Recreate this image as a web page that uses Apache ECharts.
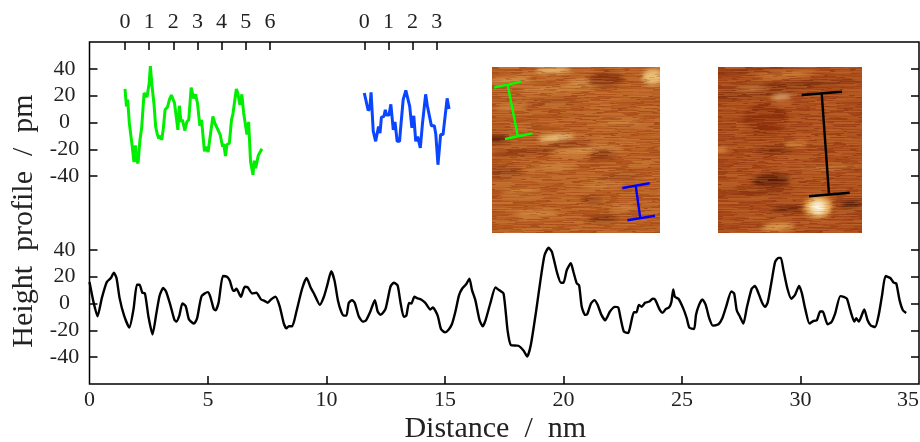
<!DOCTYPE html>
<html>
<head>
<meta charset="utf-8">
<title>Height profile</title>
<script src="https://cdn.jsdelivr.net/npm/echarts@6/dist/echarts.min.js"></script>
<style>
html, body { margin: 0; padding: 0; background: #fff; }
#main { width: 920px; height: 442px; }
</style>
</head>
<body>
<div id="main"></div>
<script>
// lower trace, distance in nm / height in pm
var blackX = [0,0.17,0.34,0.52,0.73,0.9,1.03,1.14,1.27,1.46,1.68,1.86,2,2.11,2.23,2.34,2.49,2.66,2.82,2.96,3.11,3.23,3.41,3.58,3.66,3.79,3.92,4.06,4.2,4.41,4.54,4.73,4.99,5.1,5.24,5.32,5.45,5.63,5.8,5.92,6.06,6.11,6.2,6.39,6.55,6.68,6.86,7.04,7.24,7.38,7.52,7.66,7.85,8.03,8.2,8.31,8.41,8.55,8.73,8.97,9.16,9.33,9.47,9.72,9.89,10.03,10.2,10.34,10.48,10.62,10.73,10.84,10.94,11.08,11.19,11.36,11.53,11.67,11.85,12.04,12.16,12.28,12.49,12.7,12.84,13,13.12,13.26,13.37,13.48,13.58,13.71,13.82,13.99,14.17,14.38,14.49,14.69,14.83,15,15.15,15.29,15.44,15.59,15.72,15.9,16.03,16.14,16.28,16.46,16.59,16.71,16.91,17.13,17.28,17.47,17.64,17.78,18.1,18.31,18.47,18.62,18.85,19.05,19.2,19.37,19.51,19.72,19.89,20,20.14,20.31,20.42,20.56,20.66,20.77,20.91,21,21.16,21.3,21.44,21.6,21.76,21.96,22.17,22.31,22.41,22.55,22.73,22.83,22.97,23.08,23.18,23.3,23.44,23.62,23.76,23.86,24.07,24.18,24.32,24.45,24.55,24.63,24.7,24.85,25.06,25.2,25.31,25.51,25.59,25.72,25.86,26,26.15,26.3,26.54,26.7,26.86,27.08,27.2,27.31,27.45,27.59,27.73,27.94,28.08,28.23,28.37,28.51,28.62,28.79,28.93,29.07,29.17,29.28,29.45,29.61,29.77,29.94,30.06,30.2,30.38,30.55,30.69,30.83,30.94,31.14,31.3,31.46,31.68,31.82,31.96,32.1,32.27,32.35,32.46,32.69,32.83,32.97,33.15,33.3,33.44,33.59,33.79,33.93,34.04,34.18,34.32,34.46];
var blackY = [16,1,-9.5,4,16,19,23,19,4,-9,-18,-4,14,14,8,7.5,-10,-23,-7.5,6,11.5,9,-1,-12,-13.5,-9,0,-2,-12,-15,-11,5.5,8.5,5,-4,-5,1,20.5,20,17,9.5,9.5,11,5,12.5,12,7.5,8,3,2,0.5,3,5,-2.5,-15,-18.5,-17,-17,-6,11,19,12,7.5,-1,5,13.5,24,17,2.5,-6,-9,-9,0.5,2.5,0.5,-9.5,-13.5,-12.5,-6,2.5,-6,-8.5,-4,12.5,15.5,13.5,1,-10,-9,0.5,0,5,4,3,0.5,-4.5,-3,-9,-19,-21.5,-19.5,-15.5,-6,6,11,14.5,18.5,10,2.5,-12.5,-17,-12.5,0,12,10,7.5,-20,-31,-31.5,-35,-39.5,-31,-5,20,36,41.5,38.5,23.5,15.5,15.5,25,30,23.5,15,13.5,-2.5,-8.5,-8,0,2.5,-1,-8.5,-12.5,-6,-2.5,-3,-11,-21,-22,-16,-6.5,-6.5,-1,-2.5,0.5,1.5,3.5,3,-5,-7,-4,-3,1,10.5,5,3.5,-4,-11,-18,-19,-8.5,-1,3,-1,-11,-16.5,-15.5,-11,-2.5,9,7.5,-5,-10,-15,-3.5,11,13,7.5,1,-2.5,1,17.5,31,34,34,25,11,3.5,6.5,13,7.5,-4,-15,-13,-12.5,-6,-6,-15.5,-14,-7.5,5.5,5,3.5,-5,-13.5,-11,-13.5,-4.5,-12.5,-16.5,-17.5,-8.5,6,20.5,19,15.5,15,2.5,-5,-7];

// upper left trace, x on its own top scale
var greenX = [0,0.06,0.11,0.18,0.22,0.3,0.37,0.43,0.48,0.54,0.62,0.69,0.79,0.86,0.91,1,1.05,1.12,1.2,1.27,1.34,1.4,1.47,1.52,1.59,1.66,1.76,1.84,1.92,2.05,2.19,2.25,2.32,2.38,2.48,2.56,2.64,2.74,2.78,2.84,2.92,3,3.1,3.17,3.29,3.36,3.44,3.53,3.6,3.64,3.72,3.8,3.94,4.04,4.09,4.16,4.22,4.32,4.41,4.47,4.54,4.61,4.67,4.76,4.84,4.91,4.97,5.05,5.12,5.2,5.3,5.35,5.41,5.52,5.6,5.67];
var greenY = [25,12,17,-0.5,0.5,-18,-29.5,-17,-28,-30.5,-13,-4,22,23,19,29,42,27,14,-3,-9,-12,-10,-13,-4,9.5,11.5,17,20.5,14.5,-5.5,12.5,0.5,2,-6,0.5,2,26,25,18,21,14.5,-2.5,2,-21.5,-18,-22,-10,-10,4.5,-0.5,0,-9,-18,-16,-25,-16.5,-15.5,2,6.5,7.5,25,22,13,21,7.5,8,-9,0.5,-29.5,-39,-28.5,-34,-24.5,-25,-19.5];

// upper middle trace
var blueX = [0,0.16,0.23,0.28,0.37,0.47,0.54,0.59,0.65,0.71,0.81,0.87,0.92,1.02,1.1,1.2,1.27,1.36,1.46,1.51,1.61,1.72,1.8,1.88,1.97,2.05,2.13,2.21,2.32,2.41,2.54,2.61,2.68,2.78,2.9,2.96,3.05,3.16,3.26,3.43,3.51];
var blueY = [22,9,10.5,22.5,-6.5,-14,-13,-3,-8,4,4.5,9.5,5.5,5.5,13.5,-5.5,0.5,-14,-14,-3,17,24,18,12,-4,5,-14,-10.5,-19,-0.5,21,12.5,12.5,-2.5,-2.5,-8.5,-31.5,-9,-9,18,10];

var xLabels = [0, 5, 10, 15, 20, 25, 30, 35];
var xTicks = [5, 10, 15, 20, 25, 30];
var yLabels = [-40, -20, 0, 20, 40];
var upperRightTicks = [-60, -40, -20, 0, 20, 40];
var greenTicks = [0, 1, 2, 3, 4, 5, 6];
var blueTicks = [0, 1, 2, 3];

var FONT = '"Liberation Serif", serif';
var LEFT = 89.5, RIGHT_EDGE = 919, UNIT_PX = 24.15;
var TICK = { color: '#000', width: 1.5 };

function zip(xs, ys) {
	return xs.map(function(x, i) {
		return [x, ys[i]];
	});
}

// top scale whose 0 lands on the given pixel
function topAxis(gridIndex, zeroPx, ticks) {
	return {
		gridIndex: gridIndex,
		type: 'value',
		position: 'top',
		min: (LEFT - zeroPx) / UNIT_PX,
		max: (RIGHT_EDGE - zeroPx) / UNIT_PX,
		splitLine: { show: false },
		axisLine: { show: false, onZero: false },
		axisTick: { show: true, inside: true, length: 8, customValues: ticks, lineStyle: TICK },
		axisLabel: { show: true, customValues: ticks, margin: 9, color: '#222', fontFamily: FONT, fontSize: 22, formatter: '{value}' }
	};
}

function yAxis(gridIndex, pos, ticks, labels) {
	return {
		gridIndex: gridIndex,
		type: 'value',
		position: pos,
		min: -60,
		max: 60,
		splitLine: { show: false },
		axisLine: { show: false, onZero: false },
		axisTick: { show: true, inside: true, length: 8, customValues: ticks, lineStyle: TICK },
		axisLabel: { show: labels, customValues: ticks, align: 'center', margin: 25, padding: [4, 0, 0, 0], color: '#222', fontFamily: FONT, fontSize: 22 }
	};
}

var scan1Streaks = [
	[61,3,36,7,'#ecbd70'],[161,10,22,16,'#ecc078'],[18,13,46,5,'#dc9c50'],[98,15,46,6,'#dc9c50'],[68,22,84,4,'#d08a40'],
	[64,71,36,7,'#f2d088'],[94,83,74,6,'#dc9c50'],[60,100,54,4,'#d08a40'],[110,118,44,4,'#d08a40'],[45,146,44,4,'#d8964a'],
	[130,55,44,4,'#d08a40'],[20,40,34,4,'#d08a40'],[30,125,40,4,'#d08a40'],[130,140,30,4,'#cc8238'],
	[114,12,36,15,'#8a3410'],[4,72,28,7,'#5a1c06'],[31,85,64,6,'#8e3812'],[111,88,28,9,'#8a3410'],[78,77,46,5,'#8a3410'],
	[101,133,22,7,'#8a3410'],[111,152,32,6,'#7a2a0c'],[14,105,32,11,'#96421a'],[60,34,54,4,'#99441a'],[130,110,44,5,'#99441a']
];
var scan2Streaks = [
	[0,6,143,3,'#7a2a0c'],[71,18,143,3,'#5e1c06'],[30,28,110,3,'#6a2008'],[67,8,60,4,'#d89040'],[33,22,34,3,'#e0a050'],
	[47,52,44,32,'#93350f'],[57,83,44,4,'#6a2008'],[3,83,14,4,'#e0a050'],[77,77,24,5,'#d89040'],[53,113,38,12,'#5a1806'],
	[40,125,80,3,'#7a2a0c'],[70,142,34,5,'#5a1806'],[133,137,22,6,'#3a1004'],[60,160,34,8,'#e0a050'],[110,100,60,3,'#d08a40'],
	[100,140,28,22,'#eeb860'],[63,30,22,3,'#fff0c0'],[100,140,15,13,'#fffff0']
];

function makeScan(w, h, base, streaks, light, dark) {
	var c = document.createElement('canvas');
	c.width = w;
	c.height = h;
	var ctx = c.getContext('2d');
	ctx.fillStyle = base;
	ctx.fillRect(0, 0, w, h);
	ctx.filter = 'blur(2.5px)';
	streaks.forEach(function(s) {
		ctx.fillStyle = s[4];
		ctx.beginPath();
		ctx.ellipse(s[0], s[1], s[2] / 2, s[3] / 2, -0.06, 0, Math.PI * 2);
		ctx.fill();
	});
	ctx.filter = 'none';
	// grain only, not chart data
	for (var y = 0; y < h; y++) {
		var x = 0, k = 0;
		while (x < w) {
			k++;
			var n = Math.abs(Math.sin(y * 12.9898 + k * 78.233) * 43758.5453) % 1;
			var len = 3 + n * 18;
			ctx.fillStyle = n > 0.5 ? light : dark;
			ctx.globalAlpha = Math.abs(n - 0.5) * 0.6;
			ctx.fillRect(x, y, len, 1);
			x += len;
		}
	}
	ctx.globalAlpha = 1;
	return c;
}

function bar(x1, y1, x2, y2, color) {
	return {
		type: 'line',
		z: 5,
		shape: { x1: x1, y1: y1, x2: x2, y2: y2 },
		style: { stroke: color, lineWidth: 2.4 }
	};
}

var myChart = echarts.init(document.getElementById('main'));

var option = {
	animation: false,
	backgroundColor: '#fff',
	grid: [
		{ left: LEFT, width: RIGHT_EDGE - LEFT, top: 42, height: 161, outerBoundsMode: 'none' },
		{ left: LEFT, width: RIGHT_EDGE - LEFT, top: 223, height: 161, outerBoundsMode: 'none' }
	],
	xAxis: [
		topAxis(0, 125, greenTicks),
		topAxis(0, 364.3, blueTicks),
		{
			gridIndex: 1,
			type: 'value',
			position: 'bottom',
			min: 0,
			max: 35,
			interval: 5,
			name: 'Distance  /  nm',
			nameLocation: 'middle',
			nameGap: 30,
			nameTextStyle: { color: '#222', fontFamily: FONT, fontSize: 30, padding: [0, 18, 0, 0] },
			splitLine: { show: false },
			axisLine: { show: false, onZero: false },
			axisTick: { show: true, inside: true, length: 8, customValues: xTicks, lineStyle: TICK },
			axisLabel: { show: true, customValues: xLabels, alignMaxLabel: 'right', margin: 5, color: '#222', fontFamily: FONT, fontSize: 22 }
		}
	],
	yAxis: [
		yAxis(0, 'left', yLabels, true),
		yAxis(0, 'right', upperRightTicks, false),
		yAxis(1, 'left', yLabels, true),
		yAxis(1, 'right', yLabels, false)
	],
	series: [
		{
			type: 'line', xAxisIndex: 0, yAxisIndex: 0, showSymbol: false, smooth: false,
			lineStyle: { color: '#00ee00', width: 3 },
			data: zip(greenX, greenY)
		},
		{
			type: 'line', xAxisIndex: 1, yAxisIndex: 0, showSymbol: false, smooth: false,
			lineStyle: { color: '#0a46ff', width: 3 },
			data: zip(blueX, blueY)
		},
		{
			type: 'line', xAxisIndex: 2, yAxisIndex: 2, showSymbol: false, smooth: 0.2,
			lineStyle: { color: '#000', width: 2.4 },
			data: zip(blackX, blackY)
		}
	],
	graphic: [
		{
			type: 'rect', z: 1,
			shape: { x: LEFT, y: 42, width: RIGHT_EDGE - LEFT, height: 342 },
			style: { fill: 'none', stroke: '#000', lineWidth: 1.5 }
		},
		{
			type: 'image', z: 2, x: 492, y: 67,
			style: { image: makeScan(168, 166, '#b5591f', scan1Streaks, '#e8b060', '#7a2c0c'), width: 168, height: 166 }
		},
		{
			type: 'image', z: 2, x: 718, y: 67,
			style: { image: makeScan(144, 166, '#a9491a', scan2Streaks, '#e09a48', '#6a2008'), width: 144, height: 166 }
		},
		bar(494, 87.7, 521.3, 81.7, '#00ff00'),
		bar(505, 139, 532.3, 133.3, '#00ff00'),
		bar(507.7, 85, 517.7, 135.7, '#00ff00'),
		bar(622.3, 188, 649.7, 183.3, '#0000ff'),
		bar(627.3, 220.3, 655, 215.7, '#0000ff'),
		bar(635.7, 185.7, 640.3, 218.3, '#0000ff'),
		bar(801.7, 95, 842, 91.7, '#000'),
		bar(809, 196.3, 849.7, 192.7, '#000'),
		bar(821.7, 93.3, 829, 194.3, '#000'),
		{
			type: 'text', z: 5, x: 24, y: 221, rotation: Math.PI / 2,
			style: { text: 'Height  profile  /  pm', fill: '#222', font: '30px ' + FONT, align: 'center', verticalAlign: 'middle' }
		}
	]
};
myChart.setOption(option);
</script>
</body>
</html>
